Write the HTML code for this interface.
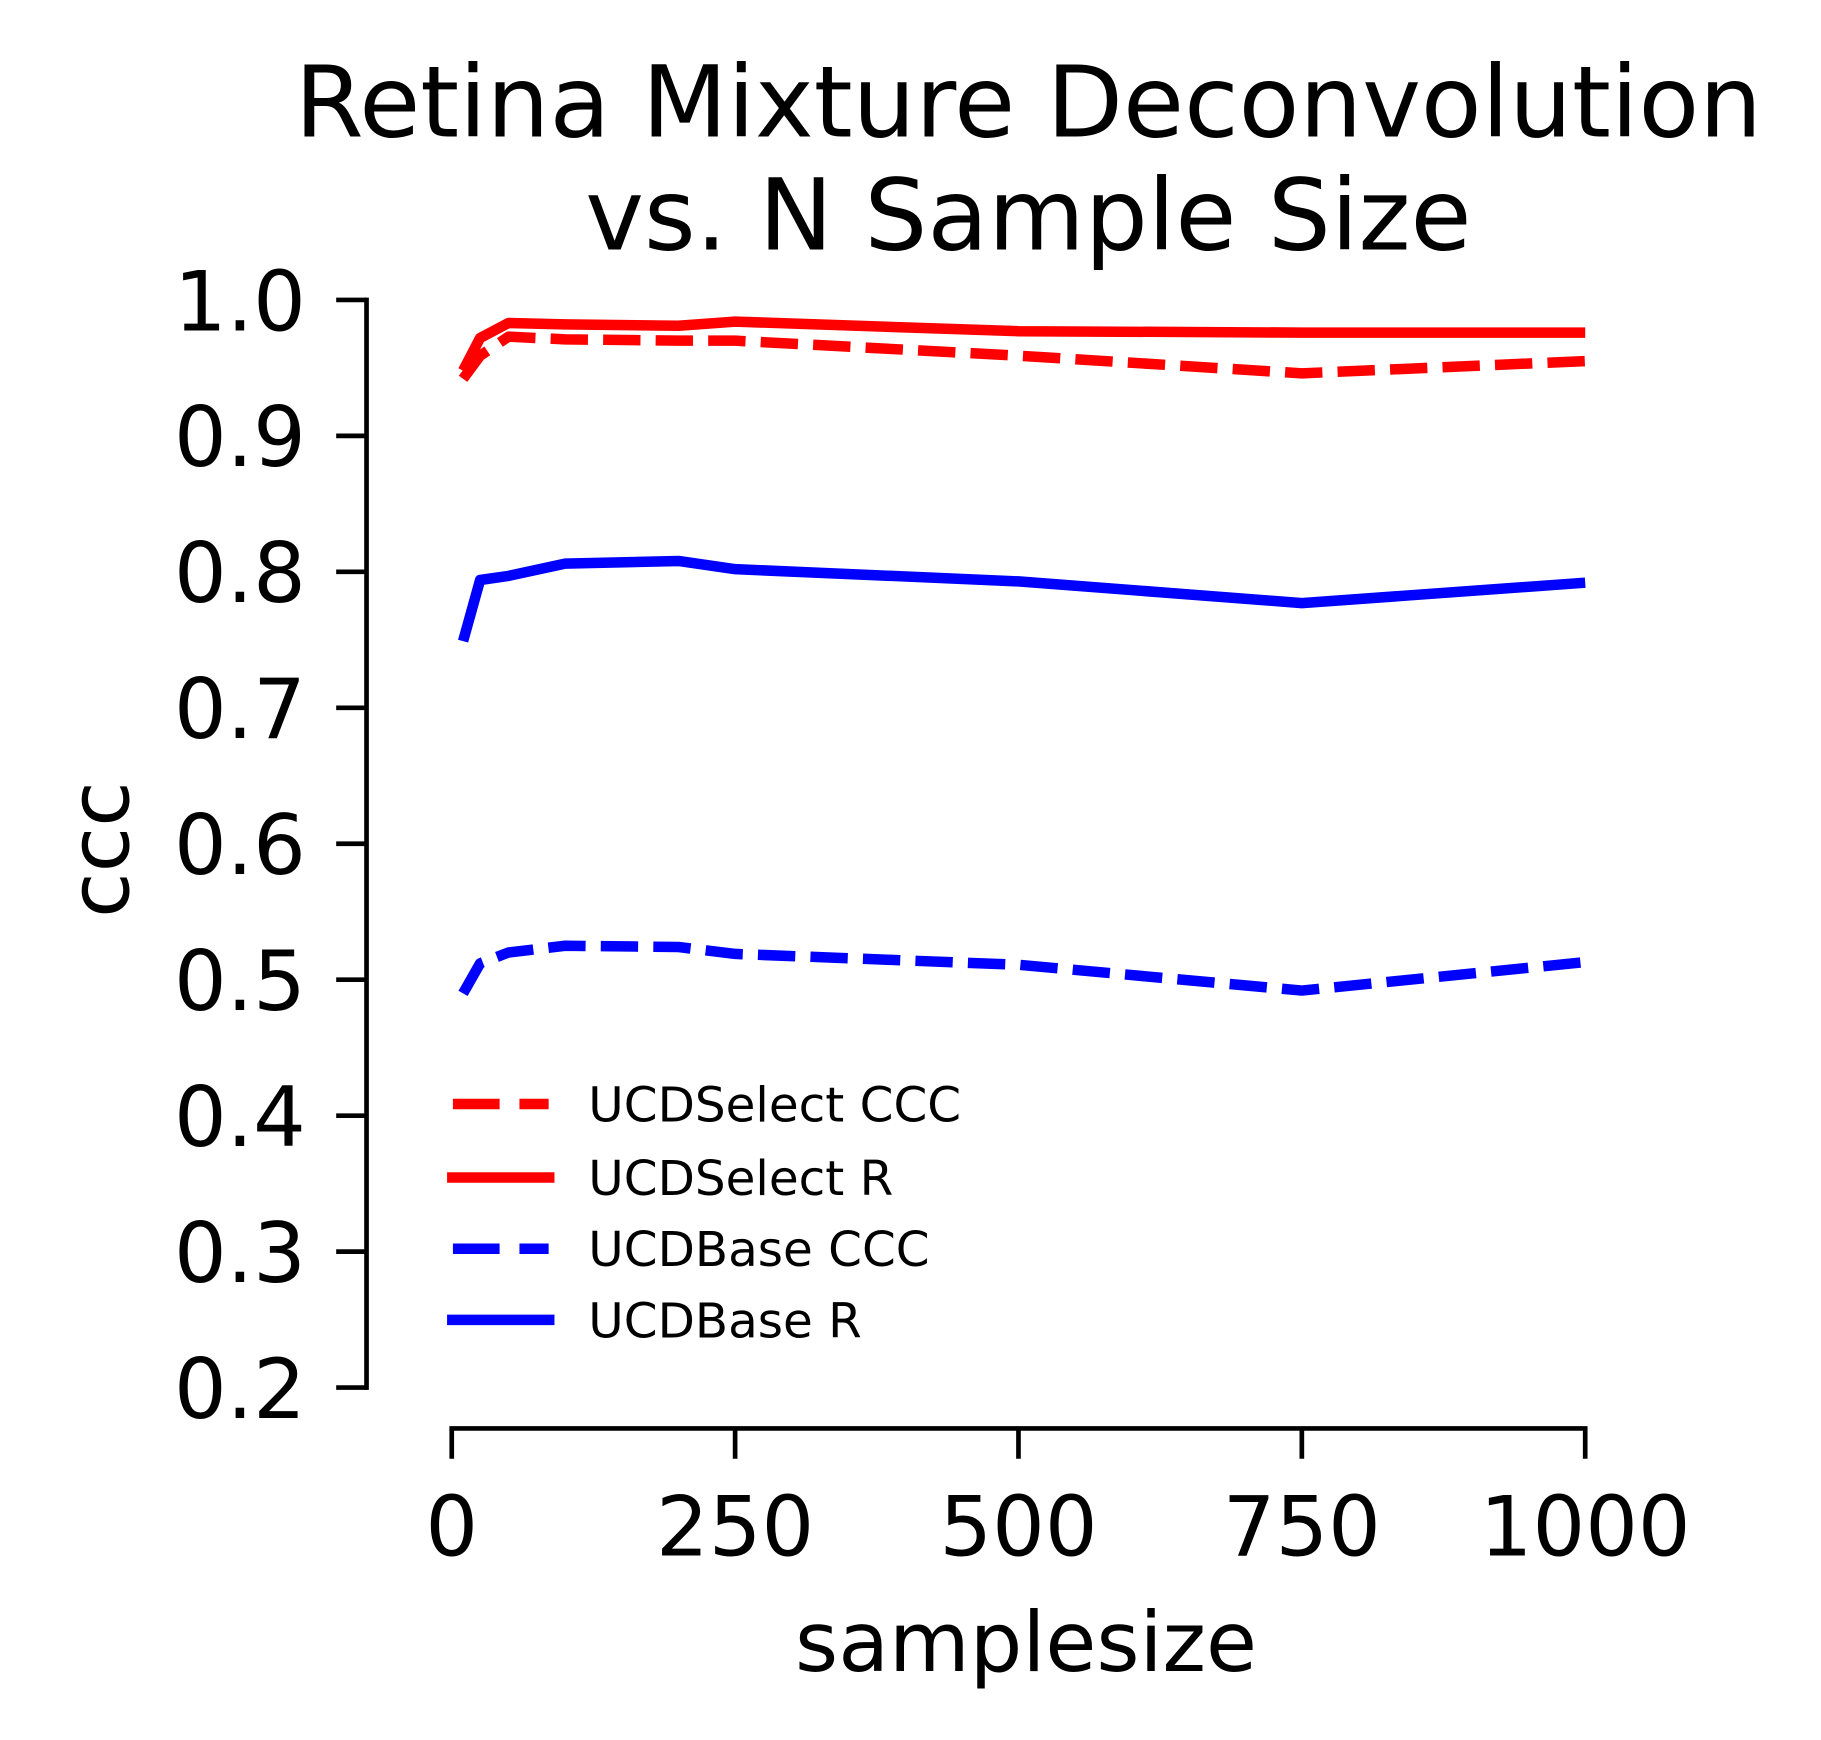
<!DOCTYPE html>
<html><head><meta charset="utf-8"><style>
html,body{margin:0;padding:0;background:#fff;}
svg{display:block;font-family:"DejaVu Sans","Liberation Sans",sans-serif;}
</style></head><body>
<svg id="chart" width="1821" height="1740" viewBox="0 0 1560 1491" preserveAspectRatio="none" xmlns="http://www.w3.org/2000/svg">
<g id="title">
<text x="881" y="117" font-size="85" text-anchor="middle">Retina Mixture Deconvolution</text>
<text x="881" y="214" font-size="85" text-anchor="middle">vs. N Sample Size</text>
</g>
<g id="axes"></g>
<g id="series"></g>
<g id="legend"></g>
<text x="879" y="1432" font-size="71" text-anchor="middle">samplesize</text>
<text transform="translate(110,728) rotate(-90)" font-size="71" text-anchor="middle">ccc</text>
</svg>
<script>
const sampleSizes = [10, 25, 50, 100, 200, 250, 500, 750, 1000];
const selectCCC = [0.942, 0.959, 0.973, 0.971, 0.970, 0.970, 0.959, 0.946, 0.955];
const selectR = [0.948, 0.972, 0.983, 0.982, 0.981, 0.984, 0.977, 0.976, 0.976];
const baseCCC = [0.490, 0.512, 0.520, 0.525, 0.524, 0.519, 0.511, 0.492, 0.513];
const baseR = [0.749, 0.794, 0.797, 0.806, 0.808, 0.802, 0.793, 0.777, 0.792];
const xTicks = [0, 250, 500, 750, 1000];
const yTicks = [0.2, 0.3, 0.4, 0.5, 0.6, 0.7, 0.8, 0.9, 1.0];
const seriesNames = ["UCDSelect CCC", "UCDSelect R", "UCDBase CCC", "UCDBase R"];

const NS = "http://www.w3.org/2000/svg";
const X0 = 387, X1 = 1358, Y0 = 1189, Y1 = 257;
function xs(v){ return X0 + (v - 0) / 1000 * (X1 - X0); }
function ys(v){ return Y0 - (v - 0.2) / 0.8 * (Y0 - Y1); }
function mk(tag, attrs, parent){
  const e = document.createElementNS(NS, tag);
  for (const k in attrs) e.setAttribute(k, attrs[k]);
  parent.appendChild(e);
  return e;
}
const axes = document.getElementById('axes');
let el = mk('line', {x1:314, y1:ys(0.2), x2:314, y2:ys(1.0), stroke:'#000', 'stroke-width':4, 'stroke-linecap':'square'}, axes);


el = mk('line', {x1:xs(0), y1:1224, x2:xs(1000), y2:1224, stroke:'#000', 'stroke-width':4, 'stroke-linecap':'square'}, axes);


yTicks.forEach(t => {
  const tk = mk('line', {x1:288, y1:ys(t), x2:314, y2:ys(t), stroke:'#000', 'stroke-width':4}, axes);
  
  
  const lb = mk('text', {x:262, y:ys(t)+26, 'font-size':71, 'text-anchor':'end'}, axes);
  lb.textContent = t.toFixed(1);
  
  
});
xTicks.forEach(t => {
  const tk = mk('line', {x1:xs(t), y1:1224, x2:xs(t), y2:1250, stroke:'#000', 'stroke-width':4}, axes);
  
  
  const lb = mk('text', {x:xs(t), y:1333, 'font-size':71, 'text-anchor':'middle'}, axes);
  lb.textContent = String(t);
  
  
});
const seriesData = [selectCCC, selectR, baseCCC, baseR];
const colors = ['#ff0000', '#ff0000', '#0000ff', '#0000ff'];
const dashed = [true, false, true, false];
const sg = document.getElementById('series');
seriesData.forEach((vals, i) => {
  const d = vals.map((v, j) => (j ? 'L' : 'M') + xs(sampleSizes[j]).toFixed(1) + ',' + ys(v).toFixed(1)).join(' ');
  const p = mk('path', {d:d, fill:'none', stroke:colors[i], 'stroke-width':9, 'stroke-linejoin':'round'}, sg);
  if (dashed[i]) p.setAttribute('stroke-dasharray', '32 13');
  
  
});
const lg = document.getElementById('legend');
const legY = [946, 1009, 1070, 1131];
seriesNames.forEach((n, i) => {
  const ln = mk('line', {x1:dashed[i]?388:383, y1:legY[i], x2:dashed[i]?470:475, y2:legY[i], stroke:colors[i], 'stroke-width':9}, lg);
  if (dashed[i]) ln.setAttribute('stroke-dasharray', '40 17');
  
  
  const tx = mk('text', {x:504, y:legY[i]+15, 'font-size':41.5}, lg);
  tx.textContent = n;
  
  
});
</script>
</body></html>
